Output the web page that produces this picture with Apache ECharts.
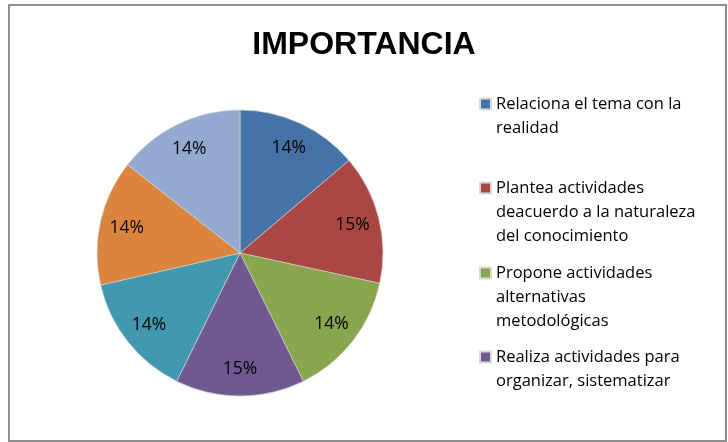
<!DOCTYPE html>
<html>
<head>
<meta charset="utf-8">
<script src="https://cdn.jsdelivr.net/npm/echarts@6/dist/echarts.min.js"></script>
<style>html,body{margin:0;padding:0;background:#fff}#c{width:728px;height:442px}</style>
</head>
<body>
<div id="c"></div>
<script>
const titleText = "IMPORTANCIA";
const categories = [
  "Relaciona el tema con la realidad",
  "Plantea actividades deacuerdo a la naturaleza del conocimiento",
  "Propone actividades alternativas metodológicas",
  "Realiza actividades para organizar, sistematizar",
  "Categoría 5",
  "Categoría 6",
  "Categoría 7"
];
const values = [13.8, 14.6, 14.3, 14.6, 14.1, 14.2, 14.4];
const legendLines = [
  ["Relaciona el tema con la", "realidad"],
  ["Plantea actividades", "deacuerdo a la naturaleza", "del conocimiento"],
  ["Propone actividades", "alternativas", "metodológicas"],
  ["Realiza actividades para", "organizar, sistematizar"]
];
const colors = ["#4572A7", "#AA4643", "#89A54E", "#71588F", "#4198AF", "#DB843D", "#93A9CF"];

const FONT = "Open Sans";
const LH = 24;
const legendCenters = [104, 188, 273, 357];

const data = categories.map((n, i) => ({ name: n, value: values[i] }));

const legends = legendLines.map((lines, i) => {
  const n = lines.length;
  const text = '\n'.repeat(n - 1) + lines.join('\n');
  return {
    left: 479,
    top: legendCenters[i] - (2 * n - 1) * LH / 2,
    padding: 0,
    orient: 'vertical',
    icon: 'rect',
    itemWidth: 11,
    itemHeight: 11,
    selectedMode: false,
    data: [categories[i]],
    formatter: () => text,
    textStyle: {
      fontFamily: FONT, fontSize: 16.5, color: '#000', lineHeight: LH
    }
  };
});

const chart = echarts.init(document.getElementById('c'), null, { renderer: 'canvas' });
chart.setOption({
  animation: false,
  color: colors,
  title: {
    text: titleText,
    left: 'center',
    top: 24,
    textStyle: { fontFamily: 'Liberation Sans', fontWeight: 'bold', fontSize: 32, color: '#000' }
  },
  legend: legends,
  graphic: [{
    type: 'rect', silent: true,
    shape: { x: 9, y: 5, width: 717, height: 436 },
    style: { fill: null, stroke: '#8f8f8f', lineWidth: 2 }
  }],
  series: [
    {
      type: 'pie',
      center: [240, 253],
      radius: [0, 143],
      startAngle: 90,
      clockwise: true,
      label: { show: false },
      labelLine: { show: false },
      itemStyle: { borderColor: '#d9d9d9', borderWidth: 0.6 },
      emphasis: { disabled: true },
      data: data
    },
    {
      type: 'pie',
      center: [240, 253],
      radius: [83, 143],
      startAngle: 90,
      clockwise: true,
      silent: true,
      legendHoverLink: false,
      itemStyle: { color: 'rgba(0,0,0,0)' },
      label: {
        show: true,
        position: 'inside',
        fontFamily: FONT,
        fontSize: 17.5,
        color: '#000',
        formatter: p => Math.round(p.percent) + '%'
      },
      labelLine: { show: false },
      emphasis: { disabled: true },
      data: data
    }
  ]
});
</script>
</body>
</html>
